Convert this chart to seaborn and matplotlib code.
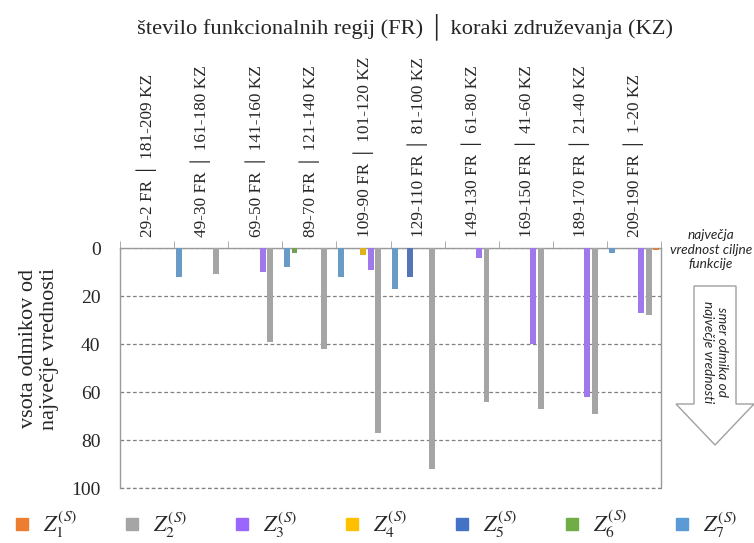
import pandas as pd
import seaborn as sns
import matplotlib.pyplot as plt
from matplotlib.lines import Line2D
from matplotlib.patches import Polygon

# kategorije (FR | KZ) in vrednosti serij Z1..Z7
kategorije = [
    '29-2 FR │ 181-209 KZ',
    '49-30 FR │ 161-180 KZ',
    '69-50 FR │ 141-160 KZ',
    '89-70 FR │ 121-140 KZ',
    '109-90 FR │ 101-120 KZ',
    '129-110 FR │ 81-100 KZ',
    '149-130 FR │ 61-80 KZ',
    '169-150 FR │ 41-60 KZ',
    '189-170 FR │ 21-40 KZ',
    '209-190 FR │ 1-20 KZ',
]
serije = ['Z1', 'Z2', 'Z3', 'Z4', 'Z5', 'Z6', 'Z7']
z1 = [0, 0, 0, 0, 0, 0, 0, 0, 0, 1]
z2 = [0, 11, 39, 42, 77, 92, 64, 67, 69, 28]
z3 = [0, 0, 10, 0, 9, 0, 4, 40, 62, 27]
z4 = [0, 0, 0, 0, 3, 0, 0, 0, 0, 0]
z5 = [0, 0, 0, 0, 0, 12, 0, 0, 0, 0]
z6 = [0, 0, 0, 2, 0, 0, 0, 0, 0, 0]
z7 = [0, 12, 0, 8, 12, 17, 0, 0, 0, 2]
legenda = [r'$Z_1^{(S)}$', r'$Z_2^{(S)}$', r'$Z_3^{(S)}$', r'$Z_4^{(S)}$',
           r'$Z_5^{(S)}$', r'$Z_6^{(S)}$', r'$Z_7^{(S)}$']
barve = ['#ED7D31', '#A5A5A5', '#9966FF', '#FFC000', '#4472C4', '#70AD47', '#5B9BD5']

vrednosti = [z1, z2, z3, z4, z5, z6, z7]
rows = []
for s, vals in zip(serije, vrednosti):
    for k, v in zip(kategorije, vals):
        rows.append({'kategorija': k, 'serija': s, 'vrednost': v})
df = pd.DataFrame(rows)

sns.set_style('white')
plt.rcParams['font.family'] = ['Liberation Serif', 'DejaVu Sans']
plt.rcParams['mathtext.fontset'] = 'stix'

fig = plt.figure(figsize=(7.54, 5.43), dpi=100)
ax = fig.add_axes([120 / 754, 1 - 488 / 543, 541 / 754, 240 / 543])

# serije v gruči so v obratnem vrstnem redu (Z7 levo, Z1 desno)
sns.barplot(data=df, x='kategorija', y='vrednost', hue='serija',
            order=kategorije, hue_order=serije[::-1],
            palette=dict(zip(serije, barve)), width=0.96, gap=0.2,
            linewidth=0, legend=False, ax=ax)
for p in ax.patches:
    p.set_zorder(3)

ax.set_ylim(100, 0)
ax.set_xlim(-0.5, len(kategorije) - 0.5)
ax.set_yticks([0, 20, 40, 60, 80, 100])
ax.tick_params(axis='y', length=0, pad=14, labelsize=14)
ax.yaxis.grid(True, linestyle=(0, (3, 2)), color='#808080', linewidth=0.9)
ax.axhline(100, linestyle=(0, (3, 2)), color='#808080', linewidth=0.9, clip_on=False)
ax.set_axisbelow(True)
ax.set_xlabel('')
ax.set_ylabel('vsota odmikov od\nnajvečje vrednosti', fontsize=16, linespacing=1.2)
ax.yaxis.set_label_coords(-0.112, 0.58)

ax.xaxis.tick_top()
ax.set_xticks(range(len(kategorije)))
ax.set_xticklabels(kategorije, rotation=90, fontsize=12.4)
ax.tick_params(axis='x', which='major', length=0, pad=8)
ax.set_xticks([i - 0.5 for i in range(len(kategorije) + 1)], minor=True)
ax.tick_params(axis='x', which='minor', length=5, color='#A0A0A0', top=True, bottom=False)

for side in ['top', 'left', 'right']:
    ax.spines[side].set_color('#9A9A9A')
    ax.spines[side].set_linewidth(1.0)
ax.spines['bottom'].set_visible(False)

fig.text(405 / 754, 1 - 27 / 543, 'število funkcionalnih regij (FR) │ koraki združevanja (KZ)',
         ha='center', va='center', fontsize=16.2)

fig.text(711 / 754, 1 - 250 / 543, 'največja\nvrednost ciljne\nfunkcije',
         ha='center', va='center', fontsize=9.8, style='italic',
         family=['Lato', 'DejaVu Sans'], linespacing=1.25)

# puščica (smer odmika)
px = [694, 736, 736, 754, 715, 676, 694]
py = [286, 286, 404, 404, 445, 404, 404]
puscica = Polygon([(x / 754, 1 - y / 543) for x, y in zip(px, py)], closed=True,
                  facecolor='white', edgecolor='#A0A0A0', linewidth=1.0,
                  transform=fig.transFigure, clip_on=False)
fig.patches.append(puscica)
fig.text(715 / 754, 1 - 352 / 543, 'smer odmika od\nnajvečje vrednosti',
         ha='center', va='center', rotation=-90, fontsize=9.8, style='italic',
         family=['Lato', 'DejaVu Sans'], linespacing=1.25)

handles = [Line2D([0], [0], marker='s', linestyle='', markersize=8,
                  markerfacecolor=c, markeredgecolor=c) for c in barve]
fig.legend(handles, legenda, ncol=7, loc='center', bbox_to_anchor=(0.499, 1 - 524 / 543),
           frameon=False, fontsize=16, handlelength=0.7, handletextpad=0.6,
           columnspacing=2.1)

fig.savefig('out.png', dpi=100)
